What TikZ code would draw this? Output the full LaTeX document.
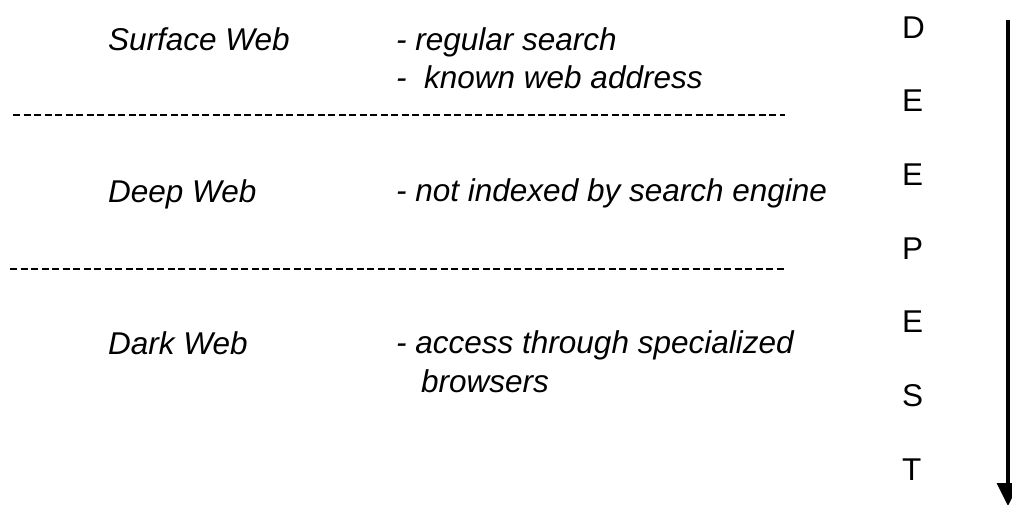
\documentclass[tikz,border=0pt]{standalone}
\usepackage{fontspec}
\setmainfont{Liberation Sans}
\usepackage{tikz}
\usetikzlibrary{arrows.meta}

\tikzset{
	layername/.style={anchor=base west,inner sep=0pt,font=\fontsize{31.5}{38}\selectfont\itshape},
	layernote/.style={anchor=base west,inner sep=0pt,font=\fontsize{31.5}{38}\selectfont\itshape},
	letter/.style={anchor=base west,inner sep=0pt,font=\fontsize{31.5}{38}\selectfont},
	separator/.style={line width=2.8pt,dash pattern=on 7.2pt off 3.3pt},
	deeparrow/.style={line width=3.5pt,-{Triangle[length=23pt,width=22pt]}}
}

\begin{document}
\begin{tikzpicture}[x=1pt,y=-1pt]
			\useasboundingbox (0,0) rectangle (1012,504);
			\node[layername] (surface) at (108,50) {Surface Web};
			\node[layernote] (surfacenoteA) at (396,50) {- regular search};
			\node[layernote] (surfacenoteB) at (396,88) {-\ \ known web address};
			\coordinate (sepAl) at (13,115);
			\coordinate (sepAr) at (785,115);
			\draw[separator] (sepAl) -- (sepAr);
			\node[layername] (deep) at (108,202) {Deep Web};
			\node[layernote] (deepnote) at (396,201) {- not indexed by search engine};
			\coordinate (sepBl) at (10,269);
			\coordinate (sepBr) at (785,269);
			\draw[separator] (sepBl) -- (sepBr);
			\node[layername] (dark) at (108,354) {Dark Web};
			\node[layernote] (darknoteA) at (396,353) {- access through specialized};
			\node[layernote] (darknoteB) at (421,392) {browsers};
			\foreach \l [count=\i] in {D,E,E,P,E,S,T}
				\node[letter] (deepest\i) at (902,{38+73.7*(\i-1)}) {\l};
			\coordinate (arrowtop) at (1008,20);
			\coordinate (arrowtip) at (1008,506);
			\draw[deeparrow] (arrowtop) -- (arrowtip);
		\end{tikzpicture}
\end{document}
